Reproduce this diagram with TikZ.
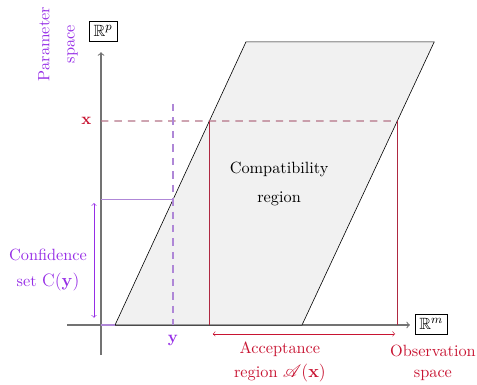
\documentclass[tikz,border=0pt]{standalone}
\usepackage{amsmath, amssymb, mathrsfs}
\usetikzlibrary{calc, positioning}
\definecolor{paramcol}{RGB}{150,45,230}
\definecolor{paramlight}{RGB}{175,135,215}
\definecolor{obscol}{RGB}{200,20,50}
\definecolor{obslight}{RGB}{180,115,135}
\definecolor{obsdark}{RGB}{175,40,65}
\definecolor{regionfill}{RGB}{241,241,241}
\tikzset{>=to}
\tikzset{font=\fontsize{10.9}{13}\selectfont}
\tikzset{axis/.style={->, gray!90!black, line width=0.7pt}}
\tikzset{spacebox/.style={draw, thin, inner sep=3pt, fill=white}}
\tikzset{paramtext/.style={text=paramcol, align=center}}
\tikzset{obstext/.style={text=obscol, align=center}}

\begin{document}
\begin{tikzpicture}
  \useasboundingbox (-2.377,-1.412) rectangle (8.847,7.647);
  % axes
  \coordinate (O) at (0,0);
  \coordinate (xstart) at (-0.80,0);
  \coordinate (xend) at (7.27,0);
  \coordinate (ystart) at (0,-0.71);
  \coordinate (yend) at (0,6.42);
  \draw[axis] (xstart) -- (xend);
  \draw[axis] (ystart) -- (yend);
  \node[spacebox] (Rp) at (0.05,6.92) {$\mathbb{R}^p$};
  \node[spacebox] (Rm) at (7.77,0.02) {$\mathbb{R}^m$};
  % compatibility region
  \coordinate (bl) at (0.33,0);
  \coordinate (br) at (4.73,0);
  \coordinate (tr) at (7.84,6.66);
  \coordinate (tl) at (3.41,6.66);
  \draw[fill=regionfill] (bl) -- (br) -- (tr) -- (tl) -- cycle;
  \node[align=center] (comp) at (4.19,3.32) {Compatibility\\[6pt] region};
  % parameter value x
  \coordinate (xval) at (0,4.80);
  \coordinate (ax) at ($(bl)!0.7207!(tl)$);
  \coordinate (bx) at ($(br)!0.7207!(tr)$);
  \coordinate (ax0) at (ax |- O);
  \coordinate (bx0) at (bx |- O);
  \draw[obslight, dashed, dash pattern=on 5pt off 4pt, thick] (xval) -- (bx);
  \draw[obsdark, line width=0.5pt] (ax) -- (ax0);
  \draw[obsdark, line width=0.5pt] (bx) -- (bx0);
  \node[obstext, left=3pt] (xlab) at (xval) {$\mathbf{x}$};
  % observed value y
  \coordinate (yval) at (1.694,0);
  \coordinate (ytop) at (1.694,5.20);
  \coordinate (cy) at ($(bl)!0.4429!(tl)$);
  \coordinate (cy0) at (cy -| O);
  \draw[paramlight, dashed, dash pattern=on 5pt off 4pt, thick] (ytop) -- (yval);
  \draw[paramlight, thick] (cy0) -- (cy);
  \draw[paramlight, thick] (O) -- (bl);
  \node[paramtext, below=3pt] (ylab) at (yval) {$\mathbf{y}$};
  % confidence set
  \coordinate (csettop) at (-0.165,2.87);
  \coordinate (csetbot) at (-0.165,0.17);
  \draw[<->, paramcol] (csettop) -- (csetbot);
  \node[paramtext] (cset) at (-1.247,1.294) {Confidence\\[4pt] set {\large$\mathrm{C}(\mathbf{y})$}};
  % acceptance region
  \coordinate (accl) at (2.63,-0.21);
  \coordinate (accr) at (6.92,-0.21);
  \draw[<->, obscol] (accl) -- (accr);
  \node[obstext] (acc) at (4.21,-0.86) {Acceptance\\[3pt] region {\large$\mathscr{A}(\mathbf{x})$}};
  % spaces
  \node[paramtext, rotate=90] (pspace) at (-1.012,6.61) {Parameter\\[4pt] space};
  \node[obstext] (ospace) at (7.81,-0.90) {Observation\\[1pt] space};
\end{tikzpicture}
\end{document}
